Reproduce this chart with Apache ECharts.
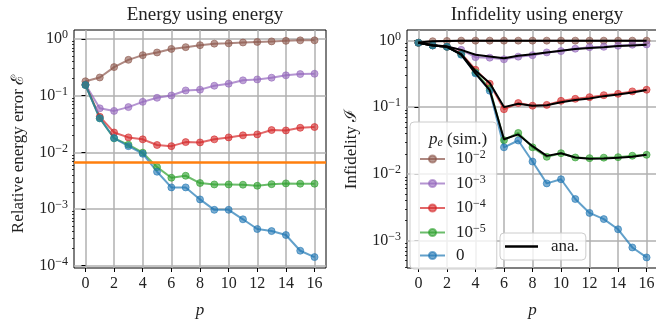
<!DOCTYPE html>
<html>
<head>
<meta charset="utf-8">
<script src="https://cdn.jsdelivr.net/npm/echarts@6/dist/echarts.min.js"></script>
<style>
    html, body {margin: 0; padding: 0; background: #fff;}
    #chart {width: 656px; height: 320px;}
</style>
</head>
<body>
<div id="chart"></div>
<script>
// ---- data ----
var steps = [0, 1, 2, 3, 4, 5, 6, 7, 8, 9, 10, 11, 12, 13, 14, 15, 16];
var xTicks = [0, 2, 4, 6, 8, 10, 12, 14, 16];
var xRange = [-0.8, 16.8];
var yTicksLeft = [1e-4, 1e-3, 1e-2, 1e-1, 1];
var yTicksRight = [1e-3, 1e-2, 1e-1, 1];
var legendNames = ['1e-2', '1e-3', '1e-4', '1e-5', '0'];

// left: relative energy error
var errP2 = [0.18, 0.21, 0.32, 0.43, 0.52, 0.58, 0.67, 0.72, 0.78, 0.83, 0.84, 0.87, 0.89, 0.91, 0.93, 0.95, 0.95];
var errP3 = [0.158, 0.060, 0.054, 0.063, 0.078, 0.092, 0.101, 0.124, 0.128, 0.150, 0.163, 0.187, 0.194, 0.208, 0.229, 0.241, 0.244];
var errP4 = [0.156, 0.0426, 0.0225, 0.0184, 0.0170, 0.0135, 0.0129, 0.0152, 0.0150, 0.0170, 0.0184, 0.0200, 0.0208, 0.0248, 0.0244, 0.0272, 0.0280];
var errP5 = [0.155, 0.040, 0.0177, 0.0137, 0.0099, 0.0055, 0.00357, 0.00387, 0.00288, 0.00272, 0.00272, 0.00269, 0.00258, 0.00275, 0.00284, 0.0028, 0.0028];
var errP0 = [0.154, 0.040, 0.0179, 0.0129, 0.00947, 0.00456, 0.00241, 0.00241, 0.00148, 0.00097, 0.00097, 0.00066, 0.000444, 0.000409, 0.000348, 0.000184, 0.000142];
var chemAcc = 0.00666;

// right: infidelity, simulated
var infP2 = [0.92, 0.97, 0.98, 0.99, 0.99, 0.99, 0.99, 0.99, 0.99, 0.99, 0.99, 0.99, 0.99, 0.99, 0.99, 0.99, 0.99];
var infP3 = [0.92, 0.84, 0.80, 0.72, 0.56, 0.55, 0.52, 0.57, 0.60, 0.66, 0.69, 0.75, 0.79, 0.80, 0.83, 0.86, 0.87];
var infP4 = [0.92, 0.84, 0.80, 0.64, 0.363, 0.224, 0.093, 0.115, 0.105, 0.108, 0.124, 0.133, 0.141, 0.151, 0.158, 0.172, 0.182];
var infP5 = [0.92, 0.84, 0.80, 0.62, 0.33, 0.19, 0.032, 0.041, 0.025, 0.018, 0.0204, 0.0176, 0.0172, 0.0175, 0.0178, 0.0187, 0.0193];
var infP0 = [0.92, 0.84, 0.80, 0.61, 0.32, 0.176, 0.025, 0.0316, 0.0153, 0.0072, 0.0083, 0.0042, 0.0026, 0.0021, 0.00148, 0.00079, 0.00056];

// right: infidelity, analytic
var anaP2 = [0.93, 0.97, 0.98, 0.99, 0.99, 0.99, 0.99, 0.99, 0.99, 0.99, 0.99, 0.99, 0.99, 0.99, 0.99, 0.99, 0.99];
var anaP3 = [0.92, 0.85, 0.81, 0.72, 0.61, 0.575, 0.54, 0.59, 0.62, 0.66, 0.70, 0.74, 0.77, 0.79, 0.82, 0.84, 0.86];
var anaP4 = [0.92, 0.84, 0.80, 0.62, 0.35, 0.23, 0.10, 0.112, 0.105, 0.107, 0.118, 0.128, 0.135, 0.146, 0.155, 0.166, 0.18];
var anaP5 = [0.92, 0.84, 0.80, 0.61, 0.32, 0.18, 0.033, 0.039, 0.026, 0.0186, 0.0204, 0.0176, 0.0168, 0.017, 0.0175, 0.018, 0.0194];

var colors = ['140,86,75', '148,103,189', '214,39,40', '44,160,44', '31,119,180'];
var FONT = 'Liberation Serif';

function pairs(vals) {
    return steps.map(function (p, i) { return [p, vals[i]]; });
}

function minorTicks(lo, hi) {
    var out = [];
    for (var k = lo; k <= hi; k++) {
        for (var m = 2; m <= 9; m++) out.push(m * Math.pow(10, k));
    }
    return out;
}

function supLabel(v) {
    var e = Math.round(Math.log10(v));
    return '10{sup|' + (e < 0 ? '\u2212' + (-e) : e) + '}';
}

var rich = {
    sup: {fontSize: 12, fontFamily: FONT, color: '#222', verticalAlign: 'bottom', padding: [0, 0, 8, 0]}
};

function simSeries(name, vals, c, xi, yi) {
    return {
        name: name, type: 'line', xAxisIndex: xi, yAxisIndex: yi,
        data: pairs(vals), symbol: 'circle', symbolSize: 7, z: 3,
        lineStyle: {color: 'rgba(' + c + ',0.7)', width: 2},
        itemStyle: {color: 'rgba(' + c + ',0.6)', borderColor: 'rgba(' + c + ',0.6)', borderWidth: 1},
        emphasis: {disabled: true}, animation: false
    };
}

function anaSeries(vals) {
    return {
        name: 'ana.', type: 'line', xAxisIndex: 1, yAxisIndex: 2,
        data: pairs(vals), symbol: 'none', z: 5,
        lineStyle: {color: '#000', width: 2}, itemStyle: {color: '#000'},
        emphasis: {disabled: true}, animation: false
    };
}

function xAx(gi) {
    return {
        type: 'value', gridIndex: gi, min: xRange[0], max: xRange[1],
        name: 'p', nameLocation: 'middle', nameGap: 34,
        nameTextStyle: {fontFamily: FONT, fontSize: 17, fontStyle: 'italic', color: '#222'},
        axisLine: {show: false},
        axisTick: {show: true, length: 4, inside: false, lineStyle: {color: '#000'}, customValues: xTicks},
        axisLabel: {customValues: xTicks, fontFamily: FONT, fontSize: 16, color: '#222', margin: 8},
        splitLine: {show: true, lineStyle: {color: '#b0b0b0', width: 1.5}}
    };
}

function yAx(gi, lo, hi, ticks, name, namePad) {
    return {
        type: 'log', logBase: 10, gridIndex: gi, min: lo, max: hi,
        name: name, nameLocation: 'middle', nameGap: 47,
        nameTextStyle: {fontFamily: FONT, fontSize: 17, color: '#222', padding: namePad},
        axisLine: {show: false},
        axisTick: {show: true, length: 4, lineStyle: {color: '#000'}, customValues: ticks},
        axisLabel: {customValues: ticks, fontFamily: FONT, fontSize: 16, color: '#222', margin: 6,
            formatter: supLabel, rich: rich},
        splitLine: {show: true, lineStyle: {color: '#b0b0b0', width: 1.5}}
    };
}

function yMinor(gi, lo, hi, mt) {
    return {
        type: 'log', logBase: 10, gridIndex: gi, min: lo, max: hi, position: 'left',
        axisLine: {show: false},
        axisTick: {show: true, length: 2, lineStyle: {color: '#000', width: 0.8}, customValues: mt},
        axisLabel: {show: false}, splitLine: {show: false}
    };
}

var chart = echarts.init(document.getElementById('chart'), null, {renderer: 'canvas'});

var option = {
    animation: false,
    backgroundColor: '#fff',
    textStyle: {fontFamily: FONT},
    title: [
        {text: 'Energy using energy', left: 200, top: 1, textAlign: 'center',
            textStyle: {fontFamily: FONT, fontSize: 19, fontWeight: 'normal', color: '#222'}},
        {text: 'Infidelity using energy', left: 532, top: 1, textAlign: 'center',
            textStyle: {fontFamily: FONT, fontSize: 19, fontWeight: 'normal', color: '#222'}},
        {text: '{i|p}{sub|e} (sim.)', left: 424, top: 125,
            textStyle: {fontFamily: FONT, fontSize: 17, fontWeight: 'normal', color: '#222',
                rich: {
                    i: {fontFamily: FONT, fontSize: 17, fontStyle: 'italic', color: '#222'},
                    sub: {fontFamily: FONT, fontSize: 12, fontStyle: 'italic', color: '#222', verticalAlign: 'top', padding: [7, 0, 0, 0]}
                }}}
    ],
    grid: [
        {left: 74, top: 30, width: 252, height: 238, show: true, borderColor: '#000', borderWidth: 1,
            backgroundColor: 'transparent', outerBoundsMode: 'none', containLabel: false},
        {left: 407, top: 30, width: 251, height: 238, show: true, borderColor: '#000', borderWidth: 1,
            backgroundColor: 'transparent', outerBoundsMode: 'none', containLabel: false}
    ],
    xAxis: [xAx(0), xAx(1)],
    yAxis: [
        yAx(0, Math.pow(10, -4.04), Math.pow(10, 0.16), yTicksLeft, 'Relative energy error \u2130', [0, 10, 0, 0]),
        yMinor(0, Math.pow(10, -4.04), Math.pow(10, 0.16), minorTicks(-5, 0)),
        yAx(1, Math.pow(10, -3.41), Math.pow(10, 0.155), yTicksRight, 'Infidelity \u2110', [0, 0, 0, 0]),
        yMinor(1, Math.pow(10, -3.41), Math.pow(10, 0.155), minorTicks(-4, 0))
    ],
    legend: [
        {
            data: legendNames, orient: 'vertical', left: 410, top: 122,
            padding: [27, 11, 5, 9], itemGap: 6, itemWidth: 25, itemHeight: 9,
            backgroundColor: 'rgba(255,255,255,0.8)', borderColor: '#ccc', borderWidth: 1, borderRadius: 4,
            textStyle: {fontFamily: FONT, fontSize: 17, color: '#222', padding: [0, 0, 0, 6], rich: rich},
            formatter: function (n) { return n === '0' ? '0' : supLabel(Number(n)); },
            selectedMode: false
        },
        {
            data: [{name: 'ana.', icon: 'rect'}], left: 500, top: 233, padding: [5, 7, 5, 5],
            itemWidth: 33, itemHeight: 2.5,
            backgroundColor: 'rgba(255,255,255,0.8)', borderColor: '#ccc', borderWidth: 1, borderRadius: 4,
            textStyle: {fontFamily: FONT, fontSize: 17, color: '#222', padding: [0, 0, 0, 8]},
            selectedMode: false
        }
    ],
    series: [
        simSeries('1e-2', errP2, colors[0], 0, 0),
        simSeries('1e-3', errP3, colors[1], 0, 0),
        simSeries('1e-4', errP4, colors[2], 0, 0),
        simSeries('1e-5', errP5, colors[3], 0, 0),
        simSeries('0', errP0, colors[4], 0, 0),
        {
            name: 'chem', type: 'line', xAxisIndex: 0, yAxisIndex: 0, z: 4,
            data: [[xRange[0], chemAcc], [xRange[1], chemAcc]], symbol: 'none',
            lineStyle: {color: '#ff7f0e', width: 2.5},
            emphasis: {disabled: true}, silent: true
        },
        simSeries('1e-2', infP2, colors[0], 1, 2),
        simSeries('1e-3', infP3, colors[1], 1, 2),
        simSeries('1e-4', infP4, colors[2], 1, 2),
        simSeries('1e-5', infP5, colors[3], 1, 2),
        simSeries('0', infP0, colors[4], 1, 2),
        anaSeries(anaP2),
        anaSeries(anaP3),
        anaSeries(anaP4),
        anaSeries(anaP5)
    ]
};

chart.setOption(option);
</script>
</body>
</html>
